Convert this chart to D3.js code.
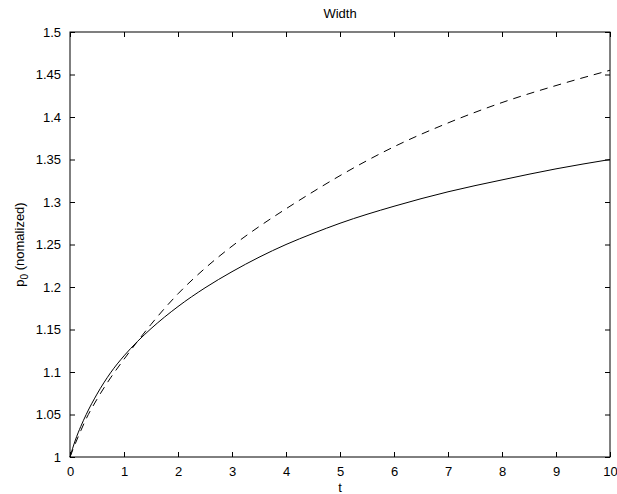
<!DOCTYPE html>
<html>
<head>
<meta charset="utf-8">
<script src="https://cdn.jsdelivr.net/npm/d3@7"></script>
<style>
  body { margin: 0; background: #fff; }
  text { font-family: "Liberation Sans", Arial, Helvetica, sans-serif; fill: #000; }
</style>
</head>
<body>
<svg id="canvas"></svg>
<script>
// Data
const tValues = [0, 0.1, 0.2, 0.3, 0.5, 0.75, 1, 1.25, 1.5, 2, 2.5, 3, 3.5, 4, 4.5, 5, 6, 7, 8, 9, 10]
const solidValues = [1.0, 1.020, 1.036, 1.050, 1.074, 1.099, 1.119, 1.136, 1.151, 1.177, 1.199, 1.218, 1.235, 1.250, 1.263, 1.275, 1.295, 1.312, 1.326, 1.339, 1.350]
const dashedValues = [1.0, 1.016, 1.031, 1.045, 1.068, 1.093, 1.115, 1.136, 1.156, 1.192, 1.222, 1.248, 1.271, 1.292, 1.312, 1.331, 1.365, 1.393, 1.417, 1.437, 1.455]
const xTicks = [0, 1, 2, 3, 4, 5, 6, 7, 8, 9, 10]
const yTicks = [1, 1.05, 1.1, 1.15, 1.2, 1.25, 1.3, 1.35, 1.4, 1.45, 1.5]

const W = 617, H = 494
const mLeft = 70, mRight = 610, mTop = 32, mBottom = 457

const svg = d3.select('#canvas')
    .attr('width', W)
    .attr('height', H)

const x = d3.scaleLinear().domain([0, 10]).range([mLeft, mRight])
const y = d3.scaleLinear().domain([1, 1.5]).range([mBottom, mTop])

const tick = 5

// box
svg.append('rect')
    .attr('x', mLeft).attr('y', mTop)
    .attr('width', mRight - mLeft).attr('height', mBottom - mTop)
    .attr('fill', 'none').attr('stroke', '#000').attr('stroke-width', 1)

// axes, ticks pointing inward, mirrored on all sides
const fmtY = d => String(+d.toFixed(2))

svg.append('g')
    .attr('transform', `translate(0,${mBottom})`)
    .call(d3.axisBottom(x).tickValues(xTicks).tickSize(-tick).tickPadding(10).tickFormat(d3.format('d')))
    .call(g => g.select('.domain').remove())

svg.append('g')
    .attr('transform', `translate(0,${mTop})`)
    .call(d3.axisTop(x).tickValues(xTicks).tickSize(-tick).tickFormat(''))
    .call(g => g.select('.domain').remove())

svg.append('g')
    .attr('transform', `translate(${mLeft},0)`)
    .call(d3.axisLeft(y).tickValues(yTicks).tickSize(-tick).tickPadding(9).tickFormat(fmtY))
    .call(g => g.select('.domain').remove())

svg.append('g')
    .attr('transform', `translate(${mRight},0)`)
    .call(d3.axisRight(y).tickValues(yTicks).tickSize(-tick).tickFormat(''))
    .call(g => g.select('.domain').remove())

svg.selectAll('.tick text')
    .style('font-family', '"Liberation Sans", Arial, sans-serif')
    .style('font-size', '13px')
    .attr('fill', '#000')
svg.selectAll('.tick line').attr('stroke', '#000')

// curves
const line = d3.line()
    .x((d, i) => x(tValues[i]))
    .y(d => y(d))
    .curve(d3.curveMonotoneX)

svg.append('path')
    .datum(solidValues)
    .attr('d', line)
    .attr('fill', 'none')
    .attr('stroke', '#000')
    .attr('stroke-width', 1)

svg.append('path')
    .datum(dashedValues)
    .attr('d', line)
    .attr('fill', 'none')
    .attr('stroke', '#000')
    .attr('stroke-width', 1)
    .attr('stroke-dasharray', '8,6')

// labels
svg.append('text')
    .attr('x', (mLeft + mRight) / 2)
    .attr('y', 18)
    .attr('text-anchor', 'middle')
    .style('font-size', '13px')
    .text('Width')

svg.append('text')
    .attr('x', (mLeft + mRight) / 2)
    .attr('y', 492)
    .attr('text-anchor', 'middle')
    .style('font-size', '13px')
    .text('t')

const yl = svg.append('text')
    .attr('transform', `translate(24,${(mTop + mBottom) / 2}) rotate(-90)`)
    .attr('text-anchor', 'middle')
    .style('font-size', '13px')
yl.append('tspan').text('p')
yl.append('tspan').attr('dy', 4).style('font-size', '10px').text('0')
yl.append('tspan').attr('dy', -4).text(' (nomalized)')
</script>
</body>
</html>
